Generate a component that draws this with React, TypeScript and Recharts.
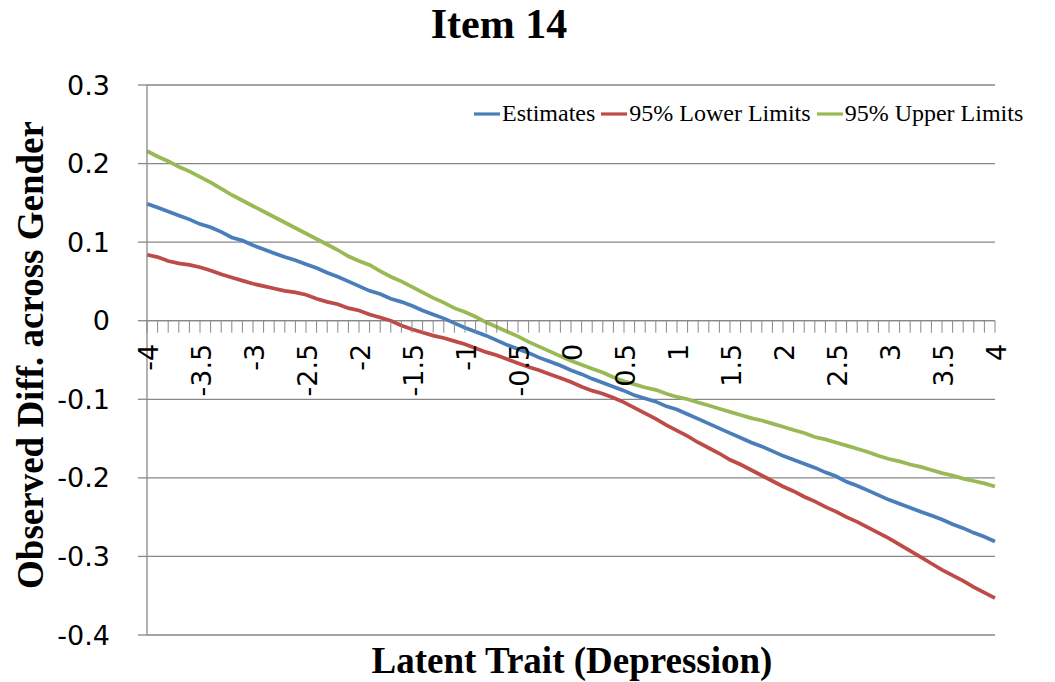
import React from "react";
import { LineChart, Line, XAxis, YAxis, CartesianGrid, ReferenceLine } from "recharts";

// Latent trait grid (x axis categories)
const LATENT_TRAIT = [
  -4.0, -3.9, -3.8, -3.7, -3.6, -3.5, -3.4, -3.3, -3.2, -3.1,
  -3.0, -2.9, -2.8, -2.7, -2.6, -2.5, -2.4, -2.3, -2.2, -2.1,
  -2.0, -1.9, -1.8, -1.7, -1.6, -1.5, -1.4, -1.3, -1.2, -1.1,
  -1.0, -0.9, -0.8, -0.7, -0.6, -0.5, -0.4, -0.3, -0.2, -0.1,
  0.0, 0.1, 0.2, 0.3, 0.4, 0.5, 0.6, 0.7, 0.8, 0.9,
  1.0, 1.1, 1.2, 1.3, 1.4, 1.5, 1.6, 1.7, 1.8, 1.9,
  2.0, 2.1, 2.2, 2.3, 2.4, 2.5, 2.6, 2.7, 2.8, 2.9,
  3.0, 3.1, 3.2, 3.3, 3.4, 3.5, 3.6, 3.7, 3.8, 3.9,
  4.0,
];

const ESTIMATES = [
  0.149, 0.144, 0.139, 0.134, 0.129, 0.123, 0.119, 0.113, 0.106, 0.102,
  0.096, 0.091, 0.086, 0.081, 0.077, 0.072, 0.067, 0.061, 0.056, 0.050,
  0.044, 0.038, 0.034, 0.028, 0.024, 0.019, 0.013, 0.008, 0.003, -0.003,
  -0.009, -0.014, -0.019, -0.025, -0.031, -0.036, -0.041, -0.047, -0.052, -0.057,
  -0.063, -0.068, -0.074, -0.079, -0.084, -0.089, -0.095, -0.099, -0.103, -0.109,
  -0.113, -0.119, -0.125, -0.131, -0.137, -0.143, -0.149, -0.155, -0.160, -0.166,
  -0.172, -0.177, -0.182, -0.187, -0.193, -0.198, -0.205, -0.210, -0.216, -0.222,
  -0.228, -0.233, -0.238, -0.243, -0.248, -0.253, -0.259, -0.264, -0.270, -0.275,
  -0.281,
];

const LOWER_LIMITS = [
  0.084, 0.081, 0.076, 0.073, 0.071, 0.068, 0.064, 0.059, 0.055, 0.051,
  0.047, 0.044, 0.041, 0.038, 0.036, 0.033, 0.028, 0.024, 0.021, 0.016,
  0.013, 0.008, 0.004, 0.000, -0.006, -0.011, -0.015, -0.019, -0.022, -0.026,
  -0.030, -0.035, -0.040, -0.044, -0.049, -0.054, -0.059, -0.063, -0.068, -0.073,
  -0.078, -0.084, -0.089, -0.093, -0.098, -0.104, -0.111, -0.118, -0.125, -0.133,
  -0.140, -0.147, -0.155, -0.162, -0.169, -0.177, -0.183, -0.190, -0.197, -0.204,
  -0.211, -0.217, -0.224, -0.230, -0.237, -0.243, -0.250, -0.256, -0.263, -0.270,
  -0.277, -0.285, -0.293, -0.301, -0.309, -0.317, -0.324, -0.331, -0.339, -0.346,
  -0.353,
];

const UPPER_LIMITS = [
  0.216, 0.209, 0.203, 0.196, 0.190, 0.183, 0.176, 0.168, 0.160, 0.153,
  0.146, 0.139, 0.132, 0.125, 0.118, 0.111, 0.104, 0.097, 0.090, 0.082,
  0.076, 0.071, 0.063, 0.056, 0.050, 0.043, 0.036, 0.029, 0.023, 0.016,
  0.011, 0.005, -0.002, -0.008, -0.014, -0.020, -0.027, -0.033, -0.039, -0.045,
  -0.051, -0.056, -0.061, -0.066, -0.072, -0.077, -0.081, -0.085, -0.088, -0.093,
  -0.097, -0.100, -0.104, -0.108, -0.112, -0.116, -0.120, -0.124, -0.127, -0.131,
  -0.135, -0.139, -0.143, -0.148, -0.151, -0.155, -0.159, -0.163, -0.167, -0.172,
  -0.176, -0.179, -0.183, -0.186, -0.190, -0.194, -0.197, -0.201, -0.204, -0.207,
  -0.211,
];

const X_TICK_LABELS = [
  "-4", "-3.5", "-3", "-2.5", "-2", "-1.5", "-1", "-0.5", "0",
  "0.5", "1", "1.5", "2", "2.5", "3", "3.5", "4",
];

const Y_TICKS = [-0.4, -0.3, -0.2, -0.1, 0, 0.1, 0.2, 0.3];

const SERIES = [
  { key: "est", name: "Estimates", color: "#4A7EBB" },
  { key: "lower", name: "95% Lower Limits", color: "#BE4B48" },
  { key: "upper", name: "95% Upper Limits", color: "#98B954" },
];

const data = LATENT_TRAIT.map((x, i) => ({
  x,
  est: ESTIMATES[i],
  lower: LOWER_LIMITS[i],
  upper: UPPER_LIMITS[i],
}));

const W = 1055;
const H = 682;
const MARGIN = { top: 85, right: 60, bottom: 46, left: 0 };
const XAXIS_H = 1;
const Y_MIN = Y_TICKS[0];
const Y_MAX = Y_TICKS[Y_TICKS.length - 1];
const PLOT_H = H - MARGIN.top - MARGIN.bottom - XAXIS_H;
// distance from the bottom of the plot up to the value 0, where the category axis crosses
const ZERO_SHIFT = (PLOT_H * (0 - Y_MIN)) / (Y_MAX - Y_MIN);

const AXIS_GRAY = "#878787";
const SANS = "'DejaVu Sans', Verdana, sans-serif";
const SERIF = "'Liberation Serif', 'Times New Roman', serif";

function TraitTick(props: any) {
  const { x, y, payload } = props;
  const zeroY = y - ZERO_SHIFT;
  const v = Number(payload.value);
  const label = X_TICK_LABELS.find((l) => Math.abs(Number(l) - v) < 1e-6);
  const tx = x + 2;
  const ty = zeroY + 23;
  return (
    <g>
      <line x1={x} x2={x} y1={zeroY} y2={zeroY + 12} stroke={AXIS_GRAY} strokeWidth={1} />
      {label !== undefined && (
        <text
          x={tx}
          y={ty}
          transform={`rotate(-90, ${tx}, ${ty})`}
          textAnchor="end"
          dominantBaseline="central"
          fontFamily={SANS}
          fontSize={27}
          fill="#000"
        >
          {label}
        </text>
      )}
    </g>
  );
}

const fmtY = (v: number) => (Math.abs(v) < 1e-9 ? "0" : v.toFixed(1));

export default function App() {
  return (
    <div style={{ position: "absolute", left: 0, top: 0, width: W, height: H, background: "#fff" }}>
      <LineChart width={W} height={H} data={data} margin={MARGIN}>
        <CartesianGrid vertical={false} stroke={AXIS_GRAY} strokeWidth={1.3} />
        <XAxis
          dataKey="x"
          height={XAXIS_H}
          interval={0}
          axisLine={false}
          tickLine={false}
          tickSize={0}
          tickMargin={0}
          tick={<TraitTick />}
        />
        <YAxis
          type="number"
          domain={[Y_MIN, Y_MAX]}
          ticks={Y_TICKS}
          width={147}
          tickSize={9}
          tickMargin={28}
          tickFormatter={fmtY}
          axisLine={{ stroke: AXIS_GRAY, strokeWidth: 1.3 }}
          tickLine={{ stroke: AXIS_GRAY, strokeWidth: 1.3 }}
          tick={{ fontFamily: SANS, fontSize: 27, fill: "#000" }}
        />
        <ReferenceLine y={0} stroke={AXIS_GRAY} strokeWidth={1.3} />
        {SERIES.map((s) => (
          <Line
            key={s.key}
            type="linear"
            dataKey={s.key}
            name={s.name}
            stroke={s.color}
            strokeWidth={3.7}
            dot={false}
            isAnimationActive={false}
          />
        ))}
      </LineChart>

      <svg
        width={W}
        height={H}
        style={{ position: "absolute", left: 0, top: 0, pointerEvents: "none" }}
      >
        <text x={499} y={38} textAnchor="middle" fontFamily={SERIF} fontWeight="bold" fontSize={42} fill="#000">
          Item 14
        </text>
        <text x={572} y={673} textAnchor="middle" fontFamily={SERIF} fontWeight="bold" fontSize={37} fill="#000">
          Latent Trait (Depression)
        </text>
        <text
          x={43}
          y={355}
          transform="rotate(-90, 43, 355)"
          textAnchor="middle"
          fontFamily={SERIF}
          fontWeight="bold"
          fontSize={37}
          fill="#000"
        >
          Observed Diff. across Gender
        </text>
      </svg>

      <div
        style={{
          position: "absolute",
          left: 474,
          top: 100,
          display: "flex",
          alignItems: "center",
          fontFamily: SERIF,
          fontSize: 24,
          lineHeight: "26px",
          color: "#000",
          whiteSpace: "nowrap",
        }}
      >
        {SERIES.map((s, i) => (
          <div key={s.key} style={{ display: "flex", alignItems: "center", marginLeft: i === 0 ? 0 : 6 }}>
            <svg width={26} height={26} style={{ display: "block" }}>
              <line x1={0} x2={26} y1={14} y2={14} stroke={s.color} strokeWidth={3.2} />
            </svg>
            <span style={{ marginLeft: 2 }}>{s.name}</span>
          </div>
        ))}
      </div>
    </div>
  );
}
